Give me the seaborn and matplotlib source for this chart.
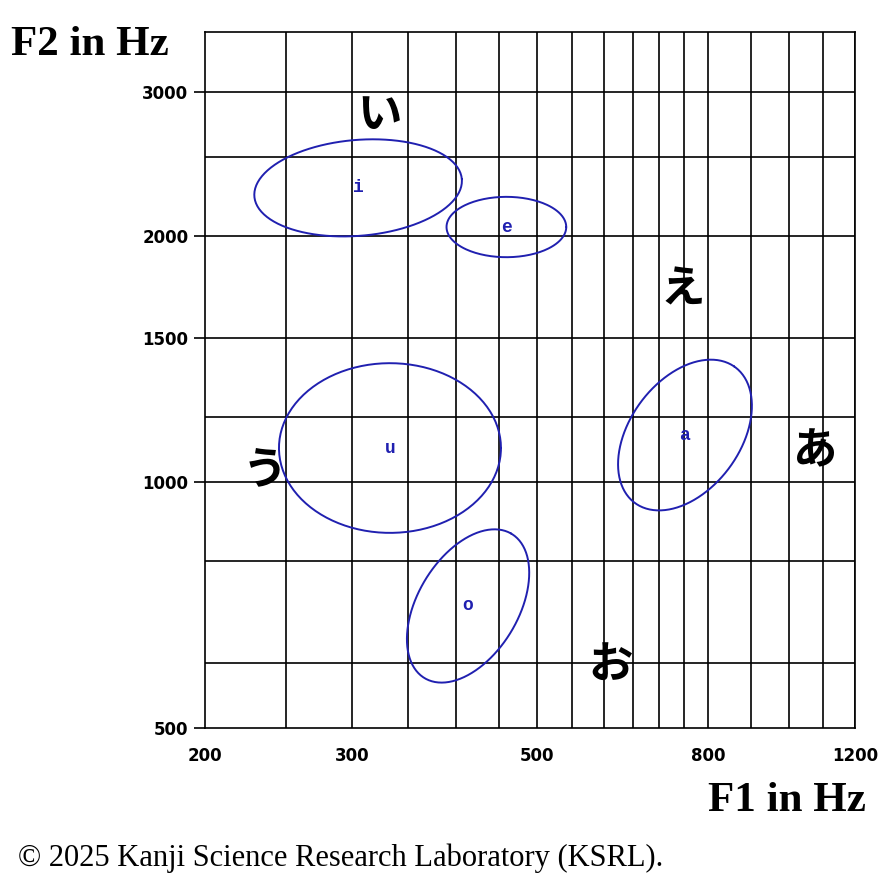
import numpy as np
import pandas as pd
import matplotlib
matplotlib.use("Agg")
import matplotlib.pyplot as plt
import seaborn as sns

vowels = ["i", "e", "u", "a", "o"]
f1_center = [305, 459, 333, 751, 413]
f2_center = [2289, 2050, 1100, 1141, 705]
semi_major = [0.287, 0.165, 0.306, 0.236, 0.236]   # in ln units
semi_minor = [0.135, 0.085, 0.239, 0.153, 0.139]
angle_deg = [5, 0, 0, 55, 60]

kana = ["い", "え", "う", "あ", "お"]
kana_f1 = [324, 747, 236, 1075, 611]
kana_f2 = [2810, 1717, 1034, 1090, 597]

x_grid = [250, 300, 350, 400, 450, 500, 550, 600, 650, 700, 750, 800, 900, 1000, 1100, 1200]
y_grid = [600, 800, 1000, 1200, 1500, 2000, 2500, 3000]
x_ticks = [200, 300, 500, 800, 1200]
y_ticks = [500, 1000, 1500, 2000, 3000]

sns.set_style("white")
plt.rcParams['font.family'] = ['Noto Sans CJK JP', 'DejaVu Sans']
plt.rcParams['text.color'] = 'black'

fig = plt.figure(figsize=(8.86, 8.91), dpi=100)
ax = fig.add_axes([0.2314, 0.183, 0.7336, 0.781])
ax.set_xscale("log"); ax.set_yscale("log")
ax.set_xlim(200, 1200); ax.set_ylim(500, 3550)

for x in x_grid:
    ax.axvline(x, color="black", lw=1.2, zorder=1)
for y in y_grid:
    ax.axhline(y, color="black", lw=1.2, zorder=1)

t = np.linspace(0, 2*np.pi, 200)
for v, cx, cy, a, b, ang in zip(vowels, f1_center, f2_center, semi_major, semi_minor, angle_deg):
    th = np.deg2rad(ang)
    u = a*np.cos(t); w = b*np.sin(t)
    lx = np.log(cx) + u*np.cos(th) - w*np.sin(th)
    ly = np.log(cy) + u*np.sin(th) + w*np.cos(th)
    df = pd.DataFrame({"x": np.exp(lx), "y": np.exp(ly)})
    sns.lineplot(data=df, x="x", y="y", sort=False, estimator=None, errorbar=None,
                 ax=ax, color="#2020b0", lw=1.4, zorder=3)
    ax.text(cx, cy, v, color="#2020b0", fontsize=13, fontweight="bold", family="Liberation Mono",
            ha="center", va="center", zorder=4)

for k, x, y in zip(kana, kana_f1, kana_f2):
    ax.text(x, y, k, fontsize=32, ha="center", va="center", color="black",
            fontweight="bold", family=['Noto Sans CJK JP'], zorder=4)

ax.set_xticks(x_ticks); ax.set_xticklabels([str(v) for v in x_ticks])
ax.set_yticks(y_ticks); ax.set_yticklabels([str(v) for v in y_ticks])
ax.minorticks_off()
ax.tick_params(axis="x", length=0, pad=14, labelsize=12, labelcolor="black")
ax.tick_params(axis="y", length=8, width=1.2, color="black", pad=4, labelsize=12, left=True, labelcolor="black")
for lab in ax.get_xticklabels() + ax.get_yticklabels():
    lab.set_fontweight("bold"); lab.set_family("DejaVu Sans")
ax.set_xlabel(""); ax.set_ylabel("")
for s in ax.spines.values():
    s.set_color("black"); s.set_linewidth(1.2)

fig.text(0.012, 0.949, "F2 in Hz", fontsize=31, fontweight="bold", family="Liberation Serif", ha="left", va="center")
fig.text(0.977, 0.101, "F1 in Hz", fontsize=31, fontweight="bold", family="Liberation Serif", ha="right", va="center")
fig.text(0.02, 0.037, "© 2025 Kanji Science Research Laboratory (KSRL).", fontsize=22, family="Liberation Serif", ha="left", va="center")

fig.savefig("out.png", dpi=100)
